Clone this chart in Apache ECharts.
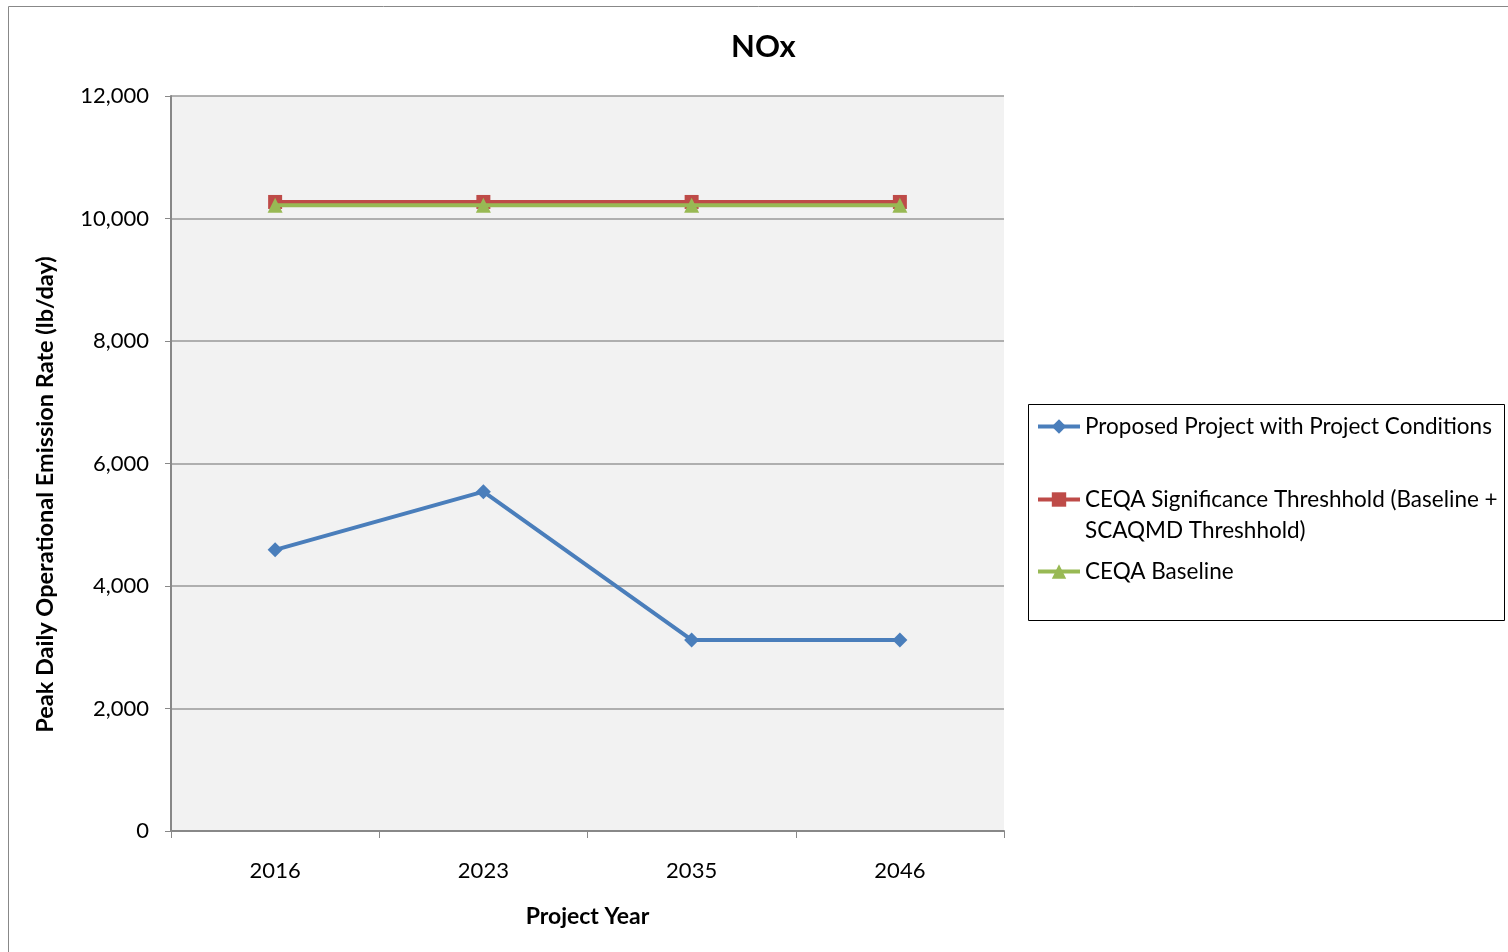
<!DOCTYPE html>
<html>
<head>
<meta charset="utf-8">
<title>NOx</title>
<script src="https://cdn.jsdelivr.net/npm/echarts@6.0.0/dist/echarts.min.js"></script>
<style>
  html, body { margin: 0; padding: 0; background: #fff; }
  #chart { width: 1508px; height: 952px; }
</style>
</head>
<body>
<div id="chart"></div>
<script>
// project years (x categories)
const years = ['2016', '2023', '2035', '2046']

// peak daily NOx emission (lb/day)
const proposedProject = [4590, 5540, 3120, 3120]
const ceqaThreshold = [10270, 10270, 10270, 10270]
const ceqaBaseline = [10215, 10215, 10215, 10215]

// y axis
const yMin = 0
const yMax = 12000
const yStep = 2000

const seriesNames = [
  'Proposed Project with Project Conditions',
  'CEQA Significance Threshhold (Baseline + SCAQMD Threshhold)',
  'CEQA Baseline'
]

const font = 'Lato, "Open Sans", sans-serif'
const colors = ['#4a7ebb', '#be4b48', '#98b954']

const chart = echarts.init(document.getElementById('chart'))

const legendBase = {
  orient: 'vertical',
  left: 1036,
  padding: 0,
  itemWidth: 42,
  itemHeight: 18,
  itemGap: 0,
  selectedMode: false,
  lineStyle: { width: 4 },
  textStyle: { fontFamily: font, fontSize: 22.5, color: '#000', lineHeight: 31 }
}

chart.setOption({
  animation: false,
  color: colors,
  title: {
    text: 'NOx',
    left: 726,
    top: 26,
    textStyle: { fontFamily: font, fontSize: 31, fontWeight: 'bold', color: '#000' }
  },
  graphic: [
    // outer chart frame
    {
      type: 'rect',
      shape: { x: 8.5, y: 6.5, width: 1520, height: 960 },
      style: { fill: 'none', stroke: '#888', lineWidth: 1 },
      silent: true
    },
    // legend box
    {
      type: 'rect',
      shape: { x: 1028.5, y: 404.5, width: 476, height: 216 },
      style: { fill: 'none', stroke: '#000', lineWidth: 1 },
      silent: true
    }
  ],
  legend: [
    Object.assign({}, legendBase, { top: 411, data: [seriesNames[0]] }),
    // blank first line keeps the icon level with the first text line
    Object.assign({}, legendBase, {
      top: 453,
      data: [seriesNames[1]],
      formatter: () => ' \nCEQA Significance Threshhold (Baseline +\nSCAQMD Threshhold)'
    }),
    Object.assign({}, legendBase, { top: 556, data: [seriesNames[2]] })
  ],
  grid: {
    left: 171,
    top: 96,
    width: 833,
    height: 735,
    show: true,
    backgroundColor: '#f2f2f2',
    borderWidth: 0
  },
  xAxis: {
    type: 'category',
    data: years,
    boundaryGap: true,
    name: 'Project Year',
    nameLocation: 'middle',
    nameGap: 74,
    nameTextStyle: { fontFamily: font, fontSize: 23, fontWeight: 'bold', color: '#000' },
    axisLine: { lineStyle: { color: '#888', width: 2 } },
    axisTick: { show: true, length: 7, lineStyle: { color: '#888', width: 1 } },
    axisLabel: { fontFamily: font, fontSize: 22, color: '#000', margin: 29 }
  },
  yAxis: {
    type: 'value',
    min: yMin,
    max: yMax,
    interval: yStep,
    name: 'Peak Daily Operational Emission Rate (lb/day)',
    nameLocation: 'middle',
    nameGap: 114,
    nameTextStyle: {
      fontFamily: font, fontSize: 23.5, fontWeight: 'bold', color: '#000',
      padding: [0, 62, 0, 0]
    },
    axisLine: { show: true, lineStyle: { color: '#888', width: 2 } },
    axisTick: { show: true, length: 6, lineStyle: { color: '#888' } },
    axisLabel: {
      fontFamily: font, fontSize: 22, color: '#000', margin: 22,
      formatter: (v) => v.toLocaleString('en-US')
    },
    splitLine: { show: true, lineStyle: { color: '#999', width: 1.5 } }
  },
  series: [
    {
      name: seriesNames[0],
      type: 'line',
      data: proposedProject,
      symbol: 'diamond',
      symbolSize: 15,
      lineStyle: { width: 4, color: colors[0] },
      itemStyle: { color: colors[0] },
      z: 3
    },
    {
      name: seriesNames[1],
      type: 'line',
      data: ceqaThreshold,
      symbol: 'rect',
      symbolSize: 14,
      lineStyle: { width: 4, color: colors[1] },
      itemStyle: { color: colors[1] },
      z: 4
    },
    {
      name: seriesNames[2],
      type: 'line',
      data: ceqaBaseline,
      symbol: 'triangle',
      symbolSize: 15,
      lineStyle: { width: 4, color: colors[2] },
      itemStyle: { color: colors[2] },
      z: 5
    }
  ]
})
</script>
</body>
</html>
